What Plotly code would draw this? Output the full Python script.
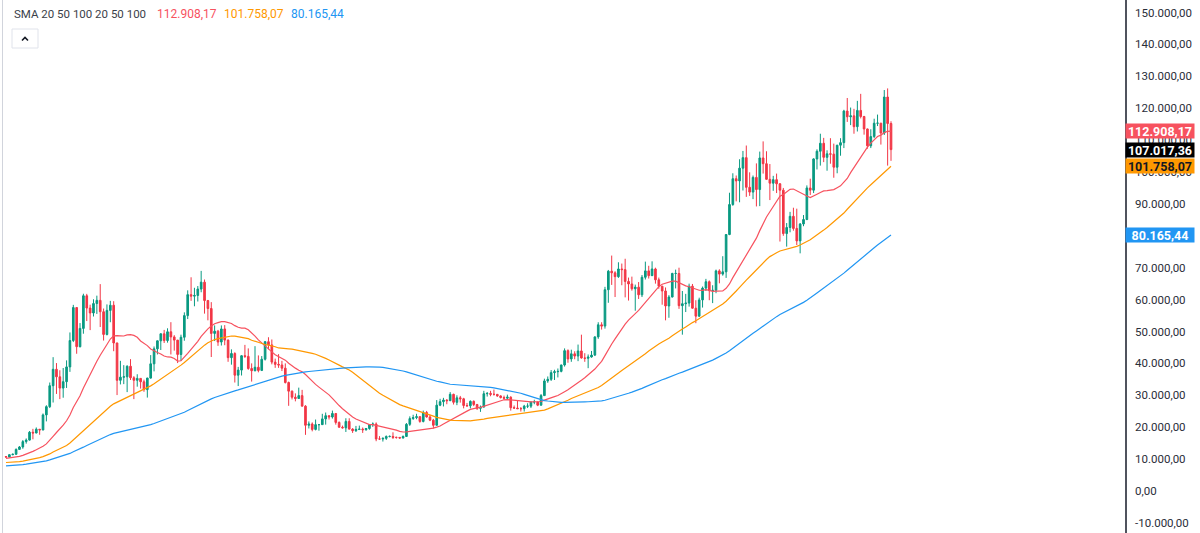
import pandas as pd
import plotly.graph_objects as go

# ---------------- data (prices in thousands of USD, weekly) ----------------
PRICE_UNIT = 1000.0
first_week = "2020-09-28"

# weekly closes before the first visible candle (needed for the moving averages)
prior_closes = [
    6.48, 6.35, 5.57, 4.01, 4.14, 3.61, 3.25, 3.98, 3.82,
    4.04, 3.55, 3.60, 3.56, 3.41, 3.66, 3.67, 3.84, 3.82, 3.95, 4.03, 4.02, 4.10,
    5.07, 5.07, 5.32, 5.27, 5.74, 7.25, 8.17, 8.74, 8.74, 7.99, 8.99, 10.8, 10.8,
    11.4, 10.2, 10.6, 9.5, 11.0, 11.3, 10.3, 10.1, 10.4, 10.4, 10.3, 10.0, 8.3, 7.9,
    8.3, 8.2, 9.5, 9.2, 8.8, 8.5, 7.3, 7.4, 7.5, 7.1, 7.5, 7.4, 7.8,
    8.2, 8.9, 8.6, 9.4, 10.2, 9.9, 9.7, 8.5, 8.0, 5.4, 5.8, 5.9, 6.8,
    6.9, 7.1, 7.7, 8.9, 8.7, 9.7, 8.7, 9.5, 9.7, 9.3, 9.3, 9.0, 9.1,
    9.3, 9.2, 9.9, 11.1, 11.7, 11.9, 11.7, 11.7, 10.3, 10.4, 11.1, 10.8,
]
first_open = 10.78

close = [
    # 2020
    10.67, 11.38, 11.51, 13.03, 13.80, 15.48, 15.96, 18.41, 18.18, 19.36, 19.14, 23.86, 26.44, 33.00,
    # 2021
    38.15, 35.79, 32.26, 34.26, 38.90, 47.17, 57.50, 45.24, 50.97, 61.20, 57.35, 55.80, 58.76, 59.77,
    56.20, 49.07, 56.62, 58.23, 46.40, 34.70, 35.68, 35.80, 39.10, 35.50, 34.70, 35.30, 34.24, 31.78,
    35.40, 39.86, 44.56, 47.08, 49.28, 47.15, 49.90, 48.30, 47.30, 42.80, 48.20, 54.98, 61.55, 61.08,
    61.30, 63.30, 65.47, 59.70, 57.20, 49.40, 50.10, 46.70, 50.80, 47.30,
    # 2022
    41.80, 43.10, 36.30, 37.90, 42.40, 42.20, 38.40, 37.70, 38.80, 37.80, 41.30, 46.80, 45.80, 40.40,
    39.70, 39.50, 38.50, 34.00, 31.30, 29.40, 29.00, 29.90, 26.60, 20.60, 21.00, 19.30, 20.80, 20.80,
    22.60, 23.60, 23.20, 24.30, 21.50, 20.00, 19.80, 21.80, 19.40, 18.90, 19.30, 19.40, 19.20, 19.60,
    20.80, 21.00, 16.30, 16.30, 16.50, 17.10, 17.10, 16.80, 16.80, 16.60,
    # 2023
    17.10, 20.90, 22.70, 23.00, 23.30, 21.80, 24.60, 23.20, 22.20, 20.60, 26.90, 28.00, 28.50, 28.30,
    30.30, 27.80, 29.20, 28.90, 26.80, 26.70, 28.10, 27.10, 25.90, 26.30, 30.50, 30.60, 30.30, 30.30,
    29.80, 29.30, 29.10, 29.40, 26.10, 26.00, 25.80, 25.80, 26.60, 26.60, 27.90, 27.90, 26.90, 29.90,
    34.50, 35.00, 37.10, 37.40, 37.50, 39.50, 44.00, 41.40, 43.00, 42.30,
    # 2024
    43.90, 41.70, 41.60, 42.00, 42.60, 48.30, 52.10, 51.70, 63.10, 68.90, 68.40, 67.20, 69.60, 69.40,
    65.70, 64.90, 63.40, 63.90, 61.50, 67.00, 69.00, 67.50, 69.60, 66.20, 64.20, 62.70, 58.00, 60.80,
    68.20, 68.20, 58.10, 58.70, 58.90, 64.20, 57.30, 54.80, 59.90, 63.60, 65.60, 62.80, 62.90, 69.00,
    68.00, 68.70, 80.40, 89.80, 97.90, 97.20, 101.20, 104.50, 95.20, 93.70, 98.30,
    # 2025
    94.50, 104.40, 102.60, 97.70, 96.50, 97.60, 96.30, 94.30, 80.70, 82.60, 86.10, 82.30, 78.40, 83.70,
    85.10, 95.00, 94.30, 104.10, 106.50, 109.00, 104.60, 105.70, 105.60, 101.50, 108.40, 109.20, 119.10,
    117.30, 117.60, 114.20, 119.30, 117.40, 113.50, 108.20, 111.10, 115.30, 115.30, 112.20, 123.50,
    115.20, 107.01736,
]

high = [
    10.95, 11.49, 11.72, 13.35, 14.09, 15.96, 16.48, 18.80, 19.48, 19.92, 19.42, 24.30, 26.87, 34.00,
    41.95, 40.10, 37.85, 38.55, 40.95, 49.70, 58.35, 57.53, 52.64, 61.84, 61.80, 58.40, 60.10, 61.23,
    64.85, 57.20, 58.49, 59.60, 59.50, 46.50, 40.80, 39.45, 39.40, 41.33, 36.00, 36.60, 35.40, 34.90,
    35.50, 42.60, 45.30, 47.15, 49.38, 50.50, 51.00, 52.92, 48.85, 47.35, 49.00, 56.00, 62.90, 67.00,
    63.70, 64.25, 69.00, 66.30, 59.90, 59.20, 51.90, 50.50, 51.90, 52.00,
    47.50, 44.40, 43.50, 38.90, 42.60, 45.80, 44.70, 40.00, 45.40, 42.50, 42.30, 47.00, 48.20, 47.50,
    41.50, 42.90, 40.80, 40.00, 34.30, 31.50, 30.60, 32.40, 31.70, 26.90, 21.80, 21.50, 22.40, 21.00,
    24.20, 24.60, 23.70, 25.20, 24.40, 21.80, 20.50, 22.80, 22.80, 19.70, 20.40, 20.50, 19.90, 19.70,
    21.00, 21.50, 21.50, 17.20, 16.80, 17.40, 17.40, 18.40, 17.00, 16.90,
    17.40, 21.30, 23.40, 23.90, 24.20, 23.40, 25.20, 25.10, 23.90, 22.60, 28.50, 28.90, 29.20, 28.80,
    31.00, 30.50, 30.00, 29.80, 29.20, 27.60, 28.40, 28.40, 27.30, 26.80, 31.40, 31.00, 31.40, 31.80,
    30.40, 30.00, 29.90, 30.20, 29.70, 26.80, 28.20, 26.30, 27.00, 27.50, 28.00, 28.60, 28.00, 30.40,
    35.20, 35.90, 37.90, 38.00, 38.40, 39.60, 44.70, 44.40, 44.30, 43.80,
    45.90, 49.00, 43.20, 42.80, 43.90, 48.50, 52.90, 52.90, 64.00, 69.30, 73.80, 68.90, 71.70, 71.30,
    72.80, 66.90, 67.20, 64.70, 65.50, 67.70, 71.90, 70.60, 72.00, 70.00, 66.90, 64.30, 63.80, 61.40,
    68.40, 69.40, 70.00, 62.70, 61.80, 65.00, 64.90, 59.80, 60.60, 64.10, 66.50, 66.00, 64.50, 69.40,
    69.50, 73.60, 80.50, 93.50, 99.60, 98.90, 104.00, 106.60, 108.30, 99.90, 98.90,
    102.70, 106.40, 109.60, 106.50, 102.50, 98.80, 99.50, 96.50, 95.00, 84.00, 87.50, 88.80, 88.50, 84.00,
    86.50, 95.80, 97.90, 104.30, 107.10, 112.00, 110.70, 106.80, 110.60, 108.90, 108.50, 110.60, 119.50,
    123.20, 120.20, 119.80, 122.30, 124.50, 117.60, 113.60, 113.40, 116.70, 118.00, 115.40, 125.70,
    126.20, 115.90,
]

low = [
    10.37, 10.53, 11.20, 11.39, 12.94, 13.24, 14.84, 15.79, 16.20, 18.10, 17.62, 19.00, 21.82, 26.00,
    27.73, 30.42, 28.80, 29.24, 32.30, 37.35, 46.68, 43.02, 45.00, 49.30, 53.27, 50.43, 54.70, 55.50,
    51.40, 47.16, 48.77, 52.90, 43.82, 30.07, 33.40, 33.50, 31.00, 34.80, 28.80, 32.70, 32.10, 31.10,
    29.28, 35.20, 37.50, 42.80, 44.20, 46.40, 46.50, 42.80, 44.00, 40.10, 40.80, 47.10, 53.90, 59.60,
    57.90, 59.40, 62.30, 55.60, 53.50, 42.00, 47.00, 45.50, 45.60, 45.70,
    40.50, 39.60, 34.00, 32.90, 36.20, 41.70, 38.00, 34.30, 37.50, 37.20, 37.60, 40.90, 44.40, 39.70,
    38.60, 38.60, 37.60, 33.70, 26.70, 28.70, 28.10, 28.90, 26.50, 17.60, 19.60, 18.70, 19.00, 18.90,
    20.70, 20.80, 22.40, 22.70, 20.80, 19.80, 19.60, 18.50, 19.30, 18.20, 18.50, 19.10, 18.20, 18.90,
    19.20, 20.10, 15.60, 16.00, 15.50, 16.00, 16.80, 16.30, 16.40, 16.40,
    16.50, 17.00, 20.40, 22.30, 22.50, 21.40, 21.50, 23.00, 21.90, 19.60, 20.50, 26.60, 26.50, 27.20,
    28.20, 27.10, 26.90, 27.70, 25.90, 26.40, 25.90, 26.60, 25.40, 24.80, 26.20, 29.60, 29.70, 29.90,
    29.50, 29.00, 28.60, 28.70, 25.20, 25.80, 25.70, 24.90, 24.90, 26.00, 26.00, 27.20, 26.60, 26.80,
    29.80, 33.90, 34.50, 34.80, 35.60, 37.20, 39.00, 40.20, 40.50, 41.30,
    40.70, 41.50, 40.50, 38.50, 41.80, 42.30, 47.70, 50.60, 50.90, 59.00, 64.60, 60.80, 66.80, 64.50,
    60.70, 59.70, 62.80, 56.50, 60.20, 60.80, 66.30, 66.60, 67.40, 65.00, 63.40, 58.40, 53.50, 54.30,
    60.70, 63.50, 57.10, 49.00, 56.10, 57.80, 57.20, 52.60, 54.60, 57.50, 62.70, 59.80, 58.90, 62.00,
    65.10, 67.50, 66.80, 80.20, 89.40, 90.80, 90.50, 94.20, 92.20, 92.50, 91.50,
    89.20, 89.30, 99.50, 97.60, 91.20, 94.10, 93.40, 78.20, 80.00, 76.60, 81.10, 81.60, 77.10, 74.50,
    83.00, 84.90, 92.80, 93.40, 100.80, 102.00, 103.10, 100.40, 102.60, 98.20, 99.60, 105.10, 107.50,
    115.70, 114.70, 112.00, 112.70, 116.80, 111.70, 107.30, 107.50, 110.60, 114.40, 108.60, 111.60,
    102.00, 103.50,
]

sma_periods = [20, 50, 100]
sma_names = ["SMA 20", "SMA 50", "SMA 100"]
legend_values = [112908.17, 101758.07, 80165.44]   # values shown by the chart
last_price = 107017.36

y_tick_values = list(range(-10000, 150001, 10000))
hidden_tick_values = [80000]   # fully covered by a price tag in the reference

# ---------------- derived series ----------------
assert len(close) == len(high) == len(low)
all_closes = prior_closes + close
n_prior = len(prior_closes)
open_ = [first_open] + close[:-1]
dates = pd.date_range(first_week, periods=len(close), freq="7D")

def sma(series, n, offset):
    out = []
    for i in range(offset, len(series)):
        w = series[i - n + 1:i + 1]
        out.append(sum(w) / len(w) * PRICE_UNIT)
    return out

sma_series = [sma(all_closes, n, n_prior) for n in sma_periods]

to_usd = lambda s: [v * PRICE_UNIT for v in s]

def fmt(v):
    s = f"{v:,.2f}"
    return s.replace(",", "X").replace(".", ",").replace("X", ".")

# ---------------- styling ----------------
W, H = 1200, 533
PLOT_W = 1125
UP, DOWN = "#089981", "#F23645"
SMA_COLORS = ["#F7525F", "#FF9800", "#2196F3"]
TEXT = "#2a2e39"
LEGEND_TEXT = "#3b3f4a"
FONT = "Roboto"

def px(x):
    return x / PLOT_W

def py(y):
    return 1 - y / H

fig = go.Figure()
fig.add_trace(go.Candlestick(
    x=dates, open=to_usd(open_), high=to_usd(high), low=to_usd(low), close=to_usd(close),
    increasing=dict(line=dict(color=UP, width=1), fillcolor=UP),
    decreasing=dict(line=dict(color=DOWN, width=1), fillcolor=DOWN),
    whiskerwidth=0, showlegend=False, hoverinfo="skip",
))
for name, series, color in zip(sma_names, sma_series, SMA_COLORS):
    fig.add_trace(go.Scatter(x=dates, y=series, mode="lines", name=name,
                             line=dict(color=color, width=1.2), showlegend=False,
                             hoverinfo="skip"))

days_per_px = 7 / 3.365
x_start = dates[0] - pd.Timedelta(days=6 * days_per_px)
x_end = x_start + pd.Timedelta(days=PLOT_W * days_per_px)

tick_text = ["" if v in hidden_tick_values else fmt(v) for v in y_tick_values]

fig.update_layout(
    width=W, height=H,
    margin=dict(l=0, r=W - PLOT_W, t=0, b=0),
    paper_bgcolor="white", plot_bgcolor="white",
    font=dict(family=FONT, color=TEXT),
    xaxis=dict(range=[x_start, x_end], visible=False, rangeslider=dict(visible=False),
               showgrid=False),
    yaxis=dict(range=[-13170, 153920], side="right", showgrid=False, zeroline=False,
               tickvals=y_tick_values, ticktext=tick_text,
               ticks="", ticklabelstandoff=6, tickfont=dict(size=11.5, color=TEXT, family=FONT),
               showline=True, linecolor="#50535e", linewidth=1.5),
)

# top-left indicator legend
fig.add_annotation(xref="paper", yref="paper", x=px(12), y=py(14), xanchor="left",
                   yanchor="middle", showarrow=False, text="SMA 20 50 100 20 50 100",
                   font=dict(size=11.5, color=LEGEND_TEXT, family=FONT))
for xpos, v, color in zip([155, 222, 289], legend_values, SMA_COLORS):
    fig.add_annotation(xref="paper", yref="paper", x=px(xpos), y=py(14), xanchor="left",
                       yanchor="middle", showarrow=False, text=fmt(v),
                       font=dict(size=12, color=color, family=FONT))

# collapse button
fig.add_shape(type="rect", xref="paper", yref="paper", x0=px(12), x1=px(38),
              y0=py(48), y1=py(29), line=dict(color="#e0e3eb", width=1), fillcolor="white")
fig.add_shape(type="path", xref="paper", yref="paper",
              path=f"M {px(22)},{py(40.5)} L {px(25)},{py(37.5)} L {px(28)},{py(40.5)}",
              line=dict(color="#131722", width=1.6))

# left border
fig.add_shape(type="line", xref="paper", yref="paper", x0=px(2.5), x1=px(2.5), y0=0, y1=1,
              line=dict(color="#d1d4dc", width=1))

# price tags on the scale
tags = [
    (legend_values[0], SMA_COLORS[0], "white"),
    (last_price, "#000000", "white"),
    (legend_values[1], SMA_COLORS[1], "#131722"),
    (legend_values[2], SMA_COLORS[2], "white"),
]
for v, bg, fg in tags:
    fig.add_annotation(xref="paper", yref="y", x=1, y=v, xanchor="left", yanchor="middle",
                       showarrow=False, text=f"<b>{fmt(v)}</b>", bgcolor=bg,
                       font=dict(size=12.5, color=fg, family=FONT),
                       width=68, height=14, borderpad=0, align="center")

fig.write_html("out.html")
